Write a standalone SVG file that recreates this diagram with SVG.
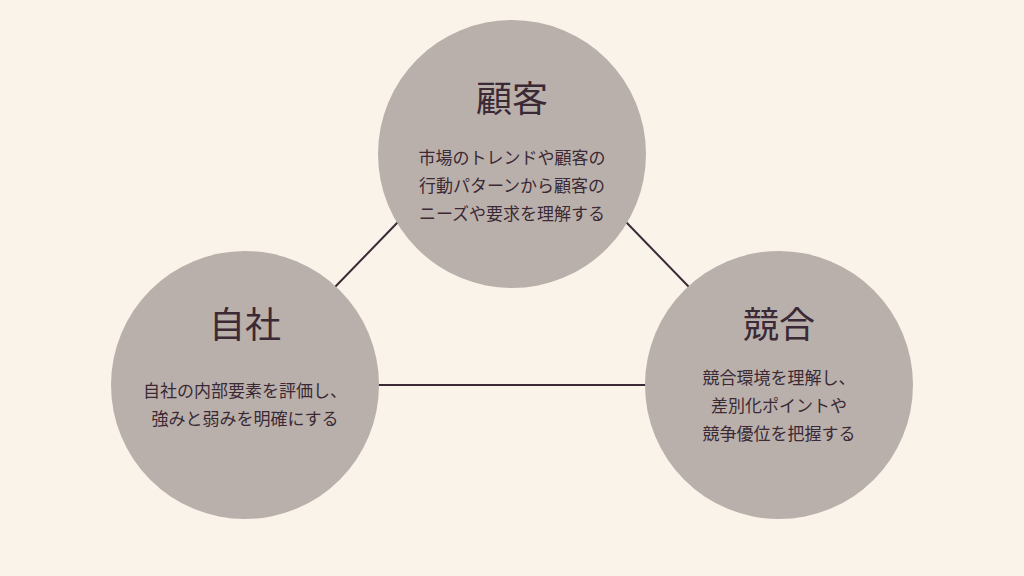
<svg xmlns="http://www.w3.org/2000/svg" width="1024" height="576" viewBox="0 0 1024 576">
<style>
.c{fill:#bab0ab}
.t{font-family:"Noto Sans CJK JP","Noto Sans",sans-serif;fill:#3b2a35;text-anchor:middle}
.h{font-size:36px}
.b{font-size:17px}
.l{stroke:#3b2a35;stroke-width:2;fill:none}
</style>
<rect width="1024" height="576" fill="#faf3e9"/>
<g id="connectors">
<line class="l" x1="335" y1="287" x2="398" y2="222"/>
<line class="l" x1="626" y1="222" x2="689" y2="287"/>
<line class="l" x1="378" y1="385" x2="646" y2="385"/>
</g>
<g id="customer">
<circle class="c" cx="512" cy="154" r="134"/>
<text class="t h" x="512" y="112">顧客</text>
<text class="t b" x="512" y="164">市場のトレンドや顧客の</text>
<text class="t b" x="512" y="192">行動パターンから顧客の</text>
<text class="t b" x="512" y="220">ニーズや要求を理解する</text>
</g>
<g id="company">
<circle class="c" cx="245" cy="385" r="134"/>
<text class="t h" x="245" y="338">自社</text>
<text class="t b" x="245" y="397">自社の内部要素を評価し、</text>
<text class="t b" x="245" y="425">強みと弱みを明確にする</text>
</g>
<g id="competitor">
<circle class="c" cx="779" cy="385" r="134"/>
<text class="t h" x="779" y="338">競合</text>
<text class="t b" x="779" y="384">競合環境を理解し、</text>
<text class="t b" x="779" y="412">差別化ポイントや</text>
<text class="t b" x="779" y="440">競争優位を把握する</text>
</g>
</svg>
